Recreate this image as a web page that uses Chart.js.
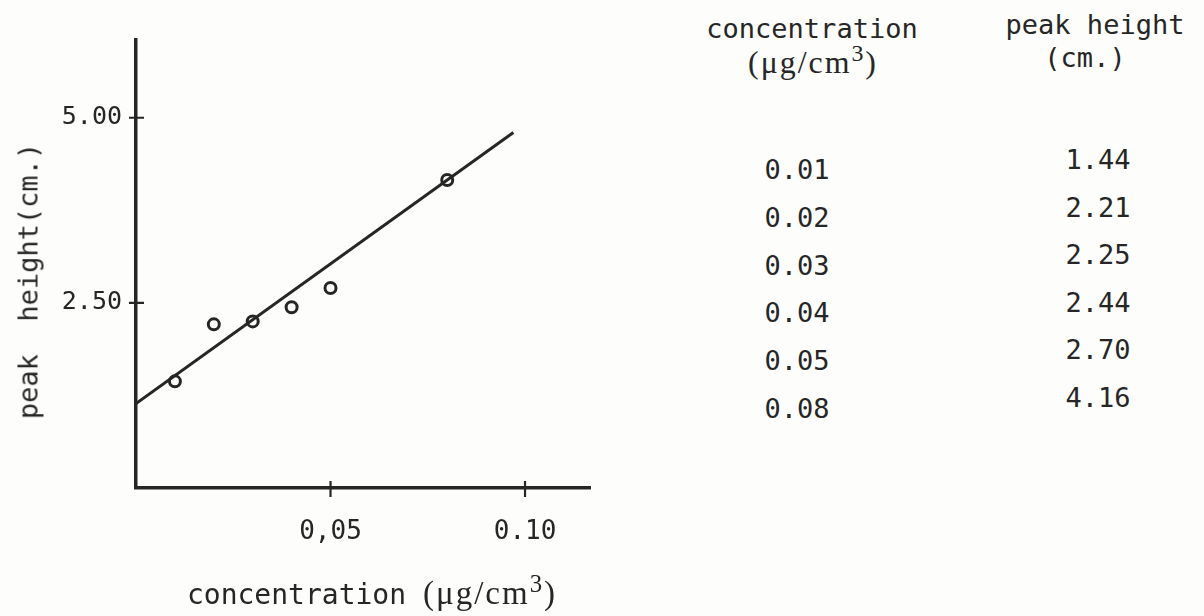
<!DOCTYPE html>
<html>
<head>
<meta charset="utf-8">
<title>peak height vs concentration</title>
<script src="https://cdn.jsdelivr.net/npm/chart.js@4.4.1/dist/chart.umd.min.js"></script>
<style>
  html, body { margin: 0; padding: 0; background: #fdfdfb; }
  body {
    width: 1204px; height: 616px; position: relative; overflow: hidden;
    font-family: "DejaVu Sans Mono", monospace; color: #262626;
  }
  #plot { position: absolute; left: 0; top: 0; width: 640px; height: 616px; }
  .txt { position: absolute; white-space: pre; line-height: 1; }
  .unit { font-family: "Liberation Serif", serif; font-size: 1.18em; letter-spacing: 2px; }
  .unit sup { font-size: 0.75em; vertical-align: 0.5em; line-height: 0; }
</style>
</head>
<body>
<div id="plot"><canvas id="chart"></canvas></div>
<div id="labels"></div>
<script>
  // measured data (table on the right of the figure)
  const concentration = [0.01, 0.02, 0.03, 0.04, 0.05, 0.08];
  const peakHeight = [1.44, 2.21, 2.25, 2.44, 2.70, 4.16];
  const concentrationText = ["0.01", "0.02", "0.03", "0.04", "0.05", "0.08"];
  const peakHeightText = ["1.44", "2.21", "2.25", "2.44", "2.70", "4.16"];

  // hand-drawn calibration line, end points
  const fitX = [0, 0.097];
  const fitY = [1.14, 4.8];

  // axis ticks as printed (note the comma on the first x label)
  const xTickValues = [0.05, 0.10];
  const xTickLabels = ["0,05", "0.10"];
  const yTickValues = [2.5, 5.0];
  const yTickLabels = ["2.50", "5.00"];

  const INK = "#262626";
  const MONO = "'DejaVu Sans Mono', monospace";

  // small crossing tick marks, like the drawn ones on the original axes
  const crossTicks = {
    id: "crossTicks",
    afterDraw(chart) {
      const { ctx, chartArea, scales } = chart;
      ctx.save();
      ctx.strokeStyle = INK;
      ctx.lineWidth = 2.2;
      ctx.beginPath();
      xTickValues.forEach((v) => {
        const px = scales.x.getPixelForValue(v);
        ctx.moveTo(px, chartArea.bottom - 7);
        ctx.lineTo(px, chartArea.bottom + 9);
      });
      yTickValues.forEach((v) => {
        const py = scales.y.getPixelForValue(v);
        ctx.moveTo(chartArea.left - 7, py);
        ctx.lineTo(chartArea.left + 8, py);
      });
      ctx.stroke();
      ctx.restore();
    },
  };

  new Chart(document.getElementById("chart"), {
    data: {
      datasets: [
        {
          type: "scatter",
          data: concentration.map((x, i) => ({ x, y: peakHeight[i] })),
          pointStyle: "circle",
          pointRadius: 5.5,
          pointBorderWidth: 3,
          pointBorderColor: INK,
          pointBackgroundColor: "rgba(255,255,255,0)",
        },
        {
          type: "line",
          data: fitX.map((x, i) => ({ x, y: fitY[i] })),
          borderColor: INK,
          borderWidth: 3,
          pointRadius: 0,
          tension: 0,
        },
      ],
    },
    options: {
      responsive: true,
      maintainAspectRatio: false,
      animation: false,
      layout: { padding: { left: 0, top: 40, right: 50, bottom: 0 } },
      plugins: { legend: { display: false }, tooltip: { enabled: false } },
      scales: {
        x: {
          type: "linear",
          min: 0,
          max: 0.1167,
          afterBuildTicks: (s) => { s.ticks = xTickValues.map((value) => ({ value })); },
          afterFit: (s) => { s.height = 128; },
          ticks: {
            autoSkip: false,
            maxRotation: 0,
            padding: 29,
            color: INK,
            font: { family: MONO, size: 26 },
            callback: (v) => xTickLabels[xTickValues.indexOf(v)],
          },
          grid: { display: false, drawTicks: false },
          border: { display: true, color: INK, width: 3.5 },
        },
        y: {
          type: "linear",
          min: 0,
          max: 6.05,
          afterBuildTicks: (s) => { s.ticks = yTickValues.map((value) => ({ value })); },
          afterFit: (s) => { s.width = 136; },
          ticks: {
            autoSkip: false,
            padding: 14,
            color: INK,
            font: { family: MONO, size: 25 },
            callback: (v) => yTickLabels[yTickValues.indexOf(v)],
          },
          grid: { display: false, drawTicks: false },
          border: { display: true, color: INK, width: 3.5 },
        },
      },
    },
    plugins: [crossTicks],
  });

  // axis titles and the data table, kept as real text
  const host = document.getElementById("labels");
  function put(html, x, y, size, rotate) {
    const d = document.createElement("div");
    d.className = "txt";
    d.style.left = x + "px";
    d.style.top = y + "px";
    d.style.fontSize = size + "px";
    d.style.transform = "translate(-50%, -50%)" + (rotate ? " rotate(" + rotate + "deg)" : "");
    d.innerHTML = html;
    host.appendChild(d);
  }

  put("peak  height(cm.)", 28, 281, 27, -90);
  put('concentration <span class="unit">(μg/cm<sup>3</sup>)</span>', 372, 594, 28);

  put("concentration", 812, 28, 27);
  put('<span class="unit">(μg/cm<sup>3</sup>)</span>', 813, 63, 27);
  put("peak height", 1095, 24, 27);
  put("(cm.)", 1085, 57, 27);

  concentrationText.forEach((t, i) => put(t, 797, 169 + i * 47.8, 27));
  peakHeightText.forEach((t, i) => put(t, 1098, 159 + i * 47.6, 27));
</script>
</body>
</html>
